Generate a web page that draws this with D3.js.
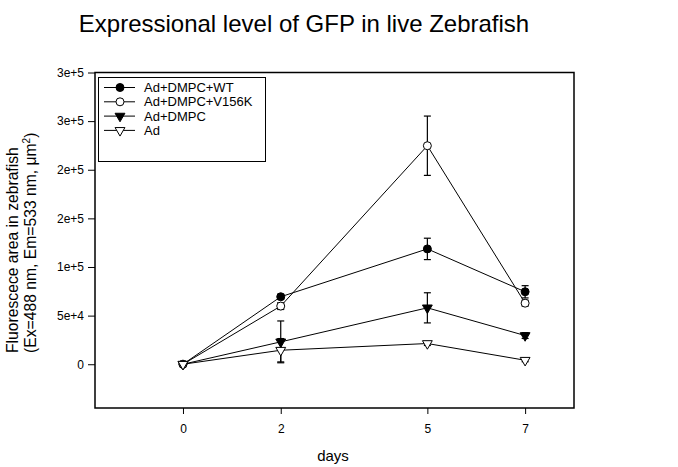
<!DOCTYPE html>
<html>
<head>
<meta charset="utf-8">
<script src="https://cdn.jsdelivr.net/npm/d3@7"></script>
<style>
  body { margin: 0; background: #fff; }
  svg { display: block; font-family: "Liberation Sans", Arial, sans-serif; }
</style>
</head>
<body>
<svg id="chart" width="678" height="467"></svg>
<script>
// ---- data ----
const days = [0, 2, 5, 7];
const xTicks = [0, 2, 5, 7];
const yTicks = [0, 50000, 100000, 150000, 200000, 250000, 300000];
const yTickLabels = ["0", "5e+4", "1e+5", "2e+5", "2e+5", "3e+5", "3e+5"];

const seriesNames = ["Ad+DMPC+WT", "Ad+DMPC+V156K", "Ad+DMPC", "Ad"];
const wt      = [0, 69400, 118600, 74500];
const wtErr   = [0, 2500, 11000, 6300];
const v156k   = [0, 59800, 224700, 62800];
const v156kErr= [0, 3500, 30500, 3000];
const dmpc    = [0, 23000, 58000, 29500];
const dmpcErr = [0, 21500, 15500, 3000];
const ad      = [0, 14400, 21300, 4100];
const adErr   = [0, 12000, 2000, 1500];

const seriesValues = [wt, v156k, dmpc, ad];
const seriesErrors = [wtErr, v156kErr, dmpcErr, adErr];
const markerTypes = ["circle", "circle", "triangle", "triangle"];
const markerFilled = [true, false, true, false];

// ---- layout ----
const svg = d3.select("#chart");
const L = 95, R = 574, T = 72.5, B = 408;
const x = d3.scaleLinear().domain([-1.8, 8]).range([L, R]);
const y = d3.scaleLinear().domain([-45000, 300000]).range([B, T]);

// title
svg.append("text").attr("x", 304).attr("y", 32).attr("text-anchor", "middle")
  .attr("font-size", 24).text("Expressional level of GFP in live Zebrafish");

// axes
const yAxis = d3.axisLeft(y).tickValues(yTicks).tickSize(7).tickPadding(4)
  .tickFormat((d, i) => yTickLabels[i]);
const gy = svg.append("g").attr("transform", `translate(${L},0)`).call(yAxis);
gy.select(".domain").remove();
gy.selectAll("text").attr("font-size", 12).attr("font-family", "Liberation Sans, Arial, sans-serif");

const xAxis = d3.axisBottom(x).tickValues(xTicks).tickSize(6).tickPadding(10)
  .tickFormat(d3.format("d"));
const gx = svg.append("g").attr("transform", `translate(0,${B})`).call(xAxis);
gx.select(".domain").remove();
gx.selectAll("text").attr("font-size", 12).attr("font-family", "Liberation Sans, Arial, sans-serif");

// frame
svg.append("rect").attr("x", L).attr("y", T).attr("width", R - L).attr("height", B - T)
  .attr("fill", "none").attr("stroke", "#000").attr("stroke-width", 1.5);

// axis titles
svg.append("text").attr("x", 333).attr("y", 461).attr("text-anchor", "middle")
  .attr("font-size", 15).text("days");
const yl = svg.append("text").attr("transform", "translate(18,353) rotate(-90)")
  .attr("font-size", 15.7);
yl.append("tspan").attr("x", 0).attr("y", 0).text("Fluorescece area in zebrafish");
yl.append("tspan").attr("x", 0).attr("y", 18).text("(Ex=488 nm, Em=533 nm, μm");
yl.append("tspan").attr("dy", -6).attr("font-size", 10).text("2");
yl.append("tspan").attr("dy", 6).text(")");

// marker factory
function marker(g, type, filled, cx, cy) {
  if (type === "circle") {
    g.append("circle").attr("cx", cx).attr("cy", cy).attr("r", 4)
      .attr("fill", filled ? "#000" : "#fff").attr("stroke", "#000").attr("stroke-width", 1);
  } else {
    g.append("path")
      .attr("d", d3.symbol().type(d3.symbolTriangle).size(42)())
      .attr("transform", `translate(${cx},${cy}) rotate(180)`)
      .attr("fill", filled ? "#000" : "#fff").attr("stroke", "#000").attr("stroke-width", 1);
  }
}

const line = d3.line().x((d, i) => x(days[i])).y(d => y(d));
const plot = svg.append("g");
seriesValues.forEach((vals, s) => {
  const g = plot.append("g");
  const errs = seriesErrors[s];
  vals.forEach((v, i) => {
    if (!errs[i]) return;
    const cx = x(days[i]);
    const y1 = y(v + errs[i]), y2 = y(v - errs[i]);
    g.append("line").attr("x1", cx).attr("x2", cx).attr("y1", y1).attr("y2", y2)
      .attr("stroke", "#000").attr("stroke-width", 1.2);
    [y1, y2].forEach(yy => g.append("line").attr("x1", cx - 3.5).attr("x2", cx + 3.5)
      .attr("y1", yy).attr("y2", yy).attr("stroke", "#000").attr("stroke-width", 1.2));
  });
  g.append("path").attr("d", line(vals)).attr("fill", "none").attr("stroke", "#000").attr("stroke-width", 1);
  vals.forEach((v, i) => marker(g, markerTypes[s], markerFilled[s], x(days[i]), y(v)));
});

// legend
const lg = svg.append("g");
lg.append("rect").attr("x", 98.5).attr("y", 77.5).attr("width", 167).attr("height", 84)
  .attr("fill", "#fff").attr("stroke", "#000").attr("stroke-width", 1);
seriesNames.forEach((name, s) => {
  const yy = 87.5 + s * 14.3;
  lg.append("line").attr("x1", 104).attr("x2", 135).attr("y1", yy).attr("y2", yy)
    .attr("stroke", "#000").attr("stroke-width", 1);
  marker(lg, markerTypes[s], markerFilled[s], 120, yy);
  lg.append("text").attr("x", 144).attr("y", yy + 4.5).attr("font-size", 13).text(name);
});
</script>
</body>
</html>
